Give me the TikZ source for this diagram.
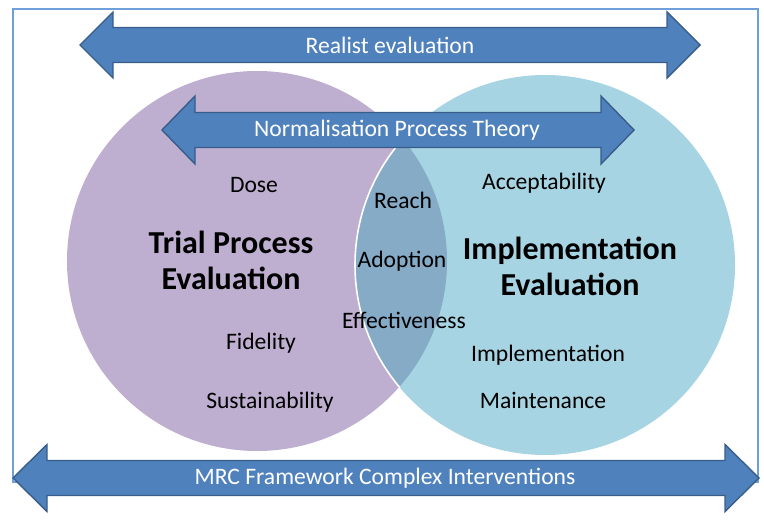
\documentclass[tikz,border=0pt]{standalone}
\usepackage{fontspec}
\setmainfont{Carlito}
\definecolor{trialpurple}{RGB}{190,175,208}
\definecolor{implblue}{RGB}{167,212,226}
\definecolor{overlapblue}{RGB}{133,171,199}
\definecolor{arrowfill}{RGB}{79,129,189}
\definecolor{arrowline}{RGB}{56,93,138}
\definecolor{framecol}{RGB}{111,159,216}
\tikzset{
  label/.style={font=\fontsize{11.8}{14}\selectfont, text=black},
  heading/.style={font=\fontsize{16}{18}\selectfont\bfseries, text=black, align=center},
  arrowtext/.style={font=\fontsize{11.8}{14}\selectfont, text=white},
  bararrow/.style={fill=arrowfill, draw=arrowline, line width=0.7pt, line join=miter}
}
% double arrow: left tip x, right tip x, centre y, body half, head half, head length
\newcommand{\dblarrow}[6]{%
  \draw[bararrow] (#1,#3) -- (#1+#6,#3-#5) -- (#1+#6,#3-#4) -- (#2-#6,#3-#4)
    -- (#2-#6,#3-#5) -- (#2,#3) -- (#2-#6,#3+#5) -- (#2-#6,#3+#4)
    -- (#1+#6,#3+#4) -- (#1+#6,#3+#5) -- cycle;}
\begin{document}
\begin{tikzpicture}[x=0.5pt,y=-0.5pt]
  \useasboundingbox (0,0) rectangle (764,519);
  \draw[framecol, line width=0.8pt] (13,9) rectangle (758,482);
  % circles
  \fill[trialpurple] (257,261) circle (190);
  \fill[implblue] (545,265) circle (190);
  \begin{scope}
    \clip (257,261) circle (190);
    \fill[overlapblue] (545,265) circle (190);
  \end{scope}
  \begin{scope}
    \clip (257,261) circle (191);
    \draw[white, line width=0.8pt] (545,265) circle (190);
  \end{scope}
  % arrows
  \dblarrow{80}{700}{45}{17.5}{33}{33}
  \dblarrow{162}{634}{130}{17.5}{34}{33}
  \dblarrow{13}{759}{478}{17.5}{33.5}{34}
  \node[arrowtext] (realist) at (390,45) {Realist evaluation};
  \node[arrowtext] (npt) at (397,130) {Normalisation Process Theory};
  \node[arrowtext] (mrc) at (385,478) {MRC Framework Complex Interventions};
  % labels
  \node[heading] (trial) at (231,260) {Trial Process\\Evaluation};
  \node[heading] (impl) at (570,266) {Implementation\\Evaluation};
  \node[label] (dose) at (254,185) {Dose};
  \node[label] (fidelity) at (261,343) {Fidelity};
  \node[label] (sustain) at (270,402) {Sustainability};
  \node[label] (reach) at (403,200) {Reach};
  \node[label] (adoption) at (402,261) {Adoption};
  \node[label] (effect) at (404,320) {Effectiveness};
  \node[label] (accept) at (544,183) {Acceptability};
  \node[label] (implem) at (548,355) {Implementation};
  \node[label] (maint) at (543,400) {Maintenance};
\end{tikzpicture}
\end{document}
